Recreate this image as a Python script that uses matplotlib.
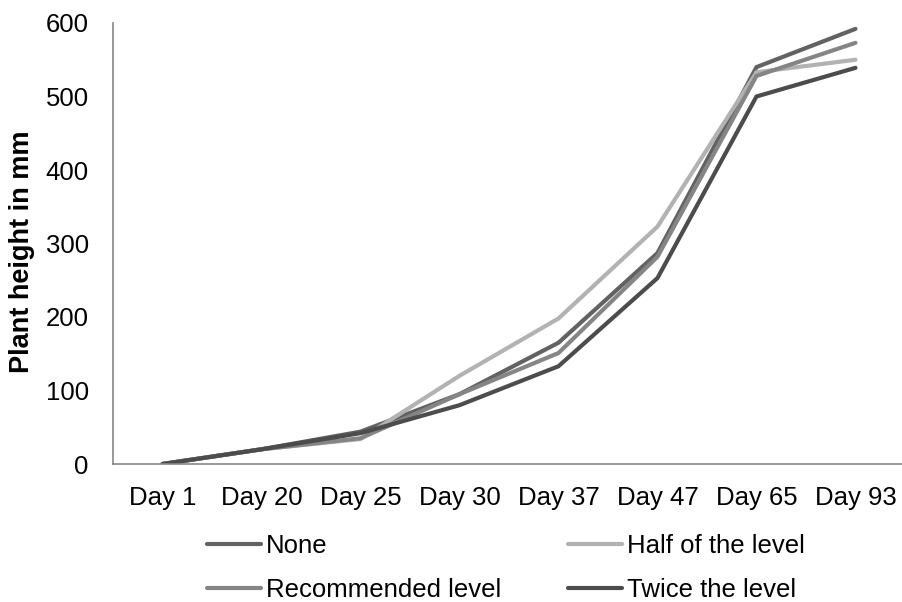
import matplotlib
matplotlib.use('Agg')
import matplotlib.pyplot as plt

plt.rcParams['font.family'] = ['Liberation Sans', 'DejaVu Sans']

# Data
days = ['Day 1', 'Day 20', 'Day 25', 'Day 30', 'Day 37', 'Day 47', 'Day 65', 'Day 93']
none = [0, 20, 44, 95, 165, 287, 540, 592]
half_level = [0, 20, 34, 120, 198, 323, 533, 550]
recommended = [0, 20, 35, 95, 151, 282, 528, 573]
twice_level = [0, 20, 42, 80, 133, 253, 500, 539]

series = [
    ('None', none, '#626262'),
    ('Half of the level', half_level, '#b2b2b2'),
    ('Recommended level', recommended, '#858585'),
    ('Twice the level', twice_level, '#4c4c4c'),
]

FS = 18.5

fig = plt.figure(figsize=(9.02, 6.02), dpi=100)
ax = fig.add_axes([113 / 902, 1 - 464 / 602, 1 - 113 / 902, (464 - 23) / 602])

x = list(range(len(days)))
lines = {}
for label, vals, color in series:
    ln, = ax.plot(x, vals, color=color, linewidth=3, label=label,
                  solid_capstyle='round', solid_joinstyle='miter')
    lines[label] = ln

ax.set_xlim(-0.5, 7.47)
ax.set_ylim(0, 600)
ax.set_yticks(range(0, 601, 100))
ax.set_xticks(x)
ax.set_xticklabels(days)
ax.tick_params(axis='both', labelsize=FS, length=0, colors='black')
ax.tick_params(axis='y', pad=17.5)
ax.tick_params(axis='x', pad=16)
for side in ['top', 'right']:
    ax.spines[side].set_visible(False)
for side in ['left', 'bottom']:
    ax.spines[side].set_color('#868686')
    ax.spines[side].set_linewidth(1.2)
ax.set_ylabel('Plant height in mm', fontsize=19.5, fontweight='bold')
ax.yaxis.set_label_coords(-0.099, 0.481)

# Excel legend fills row by row; matplotlib fills column by column
order = ['None', 'Recommended level', 'Half of the level', 'Twice the level']
fig.legend([lines[k] for k in order], order,
           loc='center left', bbox_to_anchor=(184 / 902, 1 - 568 / 602),
           ncol=2, frameon=False, fontsize=FS, handlelength=2.1,
           handletextpad=0.2, columnspacing=2.6, labelspacing=0.75)

fig.savefig('out.png', dpi=100)
